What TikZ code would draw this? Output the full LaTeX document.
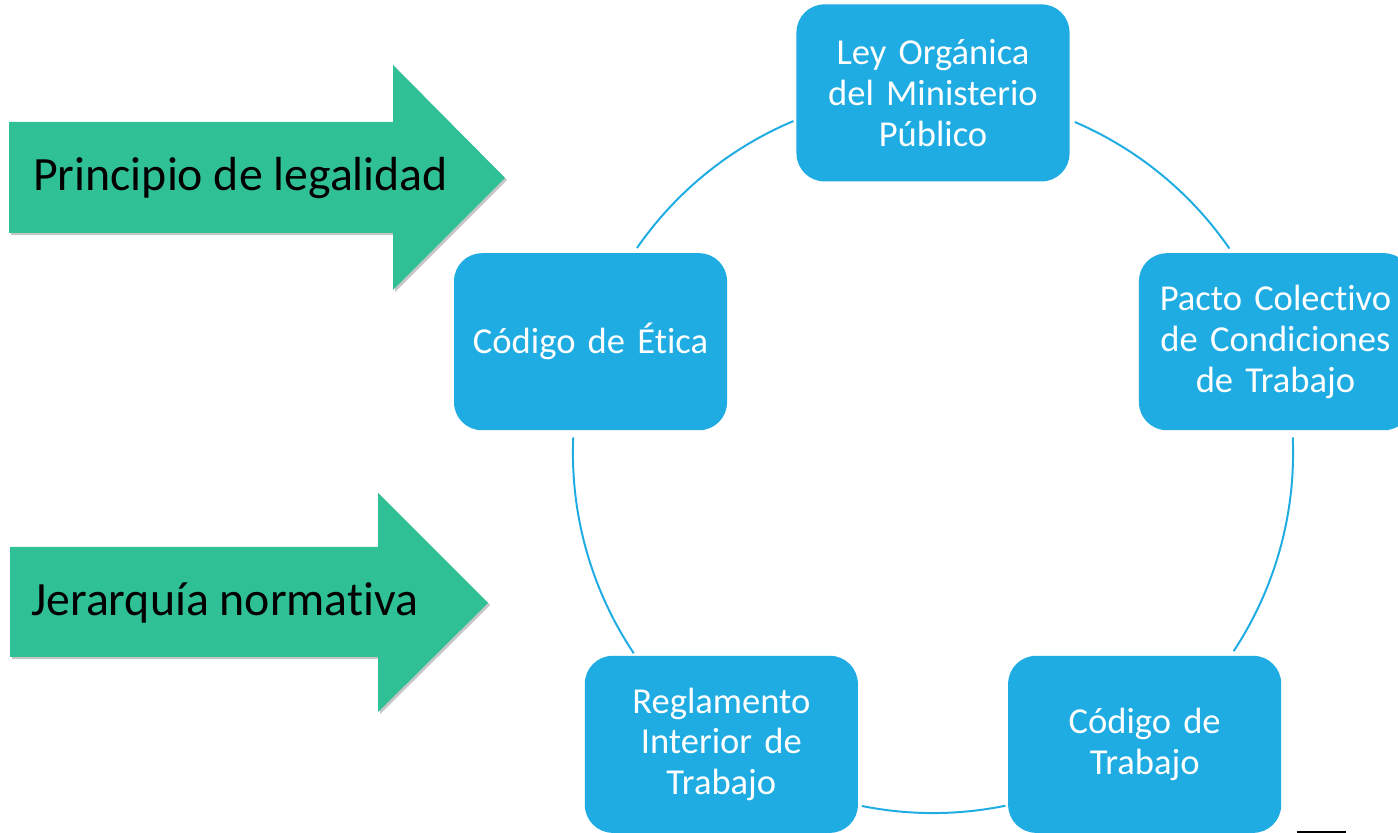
\documentclass[tikz,border=0pt]{standalone}
\usepackage{fontspec}
\setmainfont{Carlito}[Ligatures=NoCommon]
\usetikzlibrary{shadows}
\definecolor{cicloazul}{RGB}{30,172,227}
\definecolor{flechaverde}{RGB}{47,192,150}

\begin{document}
\begin{tikzpicture}[x=0.025cm,y=0.025cm,
	caja/.style={rectangle,rounded corners=0.7cm,fill=cicloazul,text=white,minimum width=6.825cm,minimum height=4.425cm,text width=6.6cm,align=center,inner sep=0pt,font=\fontsize{26}{29}\selectfont},
	flecha/.style={fill=flechaverde,drop shadow={shadow xshift=1.5pt,shadow yshift=-1.5pt,opacity=0.45}},
	rotulo/.style={anchor=west,inner sep=0pt,font=\fontsize{34}{40}\selectfont},
	enlace/.style={draw=cicloazul,line width=1.4pt}]

	\useasboundingbox (0,0) rectangle (1398,833);
	\coordinate (cc) at (933,380);

	% flechas
	\path[flecha] (9,711) -- (393,711) -- (393,768) -- (505,655) -- (393,543) -- (393,600) -- (9,600) -- cycle;
	\node[rotulo] (legal) at (33,655) {Principio de legalidad};
	\path[flecha] (10,286) -- (378,286) -- (378,340) -- (488,230) -- (378,121) -- (378,176) -- (10,176) -- cycle;
	\node[rotulo] (jerar) at (31,230) {Jerarquía normativa};

	% ciclo
	\node[caja] (ley) at ([shift={(90:9cm)}]cc) {Ley Orgánica\\del Ministerio\\Público};
	\node[caja] (pacto) at ([shift={(18:9cm)}]cc) {Pacto Colectivo\\de Condiciones\\de Trabajo};
	\node[caja] (codtra) at ([shift={(306:9cm)}]cc) {Código de\\Trabajo};
	\node[caja] (regla) at ([shift={(234:9cm)}]cc) {Reglamento\\Interior de\\Trabajo};
	\node[caja] (etica) at ([shift={(162:9cm)}]cc) {Código de Ética};

	\foreach \a/\b in {112.8/145.3, 177.5/213.8, 258.6/281.6, 326.6/362.5, 34.6/66.8}
		\draw[enlace] ([shift={(\a:9cm)}]cc) arc[start angle=\a, end angle=\b, radius=9cm];

	\draw[line width=1.4pt] (1297,1) -- (1346,1);
\end{tikzpicture}
\end{document}
